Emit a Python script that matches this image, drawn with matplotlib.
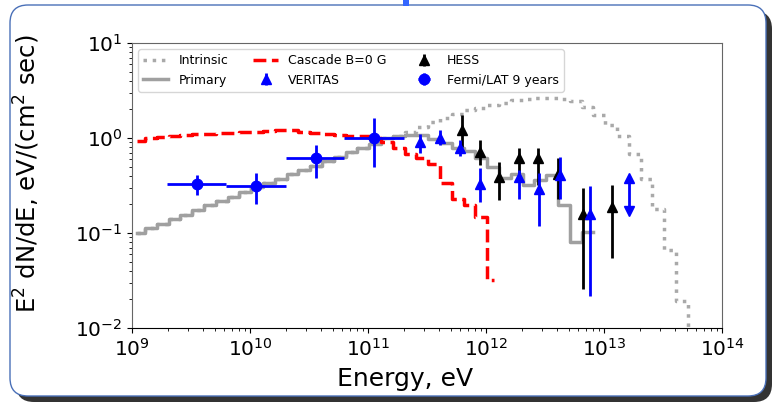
import matplotlib
matplotlib.use("Agg")
import matplotlib.pyplot as plt
import numpy as np
from matplotlib.patches import FancyBboxPatch, Rectangle
from matplotlib.transforms import IdentityTransform

# model spectra are binned in 0.1 dex of energy (log10 E/eV)
edges_log10 = [9.04] + [round(9.11 + 0.1 * k, 2) for k in range(48)]

# log10 of E^2 dN/dE, read per bin
primary_log10 = [-1.00, -0.95, -0.90, -0.855, -0.81, -0.76, -0.71, -0.665, -0.62, -0.57,
                 -0.52, -0.475, -0.43, -0.38, -0.335, -0.29, -0.24, -0.195, -0.15, -0.10,
                 -0.06, 0.0, 0.02, 0.03, 0.03, -0.01, -0.055, -0.10, -0.14, -0.21,
                 -0.30, -0.42, -0.38, -0.49, -0.44, -0.39, -0.70, -1.09, -0.99]
intrinsic_log10 = primary_log10[:20] + [-0.05, 0.0, 0.025,
                   0.06, 0.12, 0.17, 0.21, 0.25, 0.29, 0.32, 0.345, 0.37, 0.395,
                   0.415, 0.425, 0.42, 0.41, 0.39, 0.33, 0.24, 0.14, 0.02, -0.17,
                   -0.43, -0.75, -1.18, -1.72, -3.0]
cascade_log10 = [-0.03, 0.0, 0.01, 0.02, 0.03, 0.04, 0.045, 0.05, 0.055, 0.06,
                 0.065, 0.07, 0.08, 0.085, 0.06, 0.05, 0.04, 0.03, 0.025, 0.02,
                 0.0, -0.04, -0.105, -0.165, -0.21, -0.27, -0.47, -0.64, -0.71, -0.835,
                 -1.495]
cascade_edges_log10 = edges_log10[:31] + [12.07]

# Fermi/LAT 9 years
fermi_E = [3.55e9, 1.12e10, 3.6e10, 1.12e11]
fermi_E_lo = [1.97e9, 6.27e9, 2.0e10, 6.3e10]
fermi_E_hi = [6.27e9, 2.0e10, 6.3e10, 2.0e11]
fermi_F = [0.33, 0.31, 0.61, 1.0]
fermi_F_lo = [0.25, 0.20, 0.38, 0.49]
fermi_F_hi = [0.41, 0.43, 0.85, 1.61]

# VERITAS
veritas_E = [2.75e11, 4.07e11, 6.03e11, 8.9e11, 1.9e12, 2.8e12, 4.2e12, 7.6e12]
veritas_F = [0.91, 1.0, 0.79, 0.33, 0.39, 0.29, 0.41, 0.16]
veritas_F_lo = [0.69, 0.84, 0.65, 0.21, 0.23, 0.12, 0.23, 0.022]
veritas_F_hi = [1.10, 1.21, 0.95, 0.48, 0.46, 0.43, 0.63, 0.31]
veritas_lim_E = [1.62e13]
veritas_lim_top = [0.38]
veritas_lim_bottom = [0.17]

# HESS
hess_E = [6.2e11, 8.9e11, 1.29e12, 1.9e12, 2.75e12, 4.1e12, 6.6e12, 1.16e13]
hess_F = [1.21, 0.72, 0.39, 0.61, 0.61, 0.42, 0.16, 0.19]
hess_F_lo = [0.81, 0.52, 0.22, 0.35, 0.32, 0.23, 0.026, 0.054]
hess_F_hi = [1.74, 0.95, 0.56, 0.78, 0.78, 0.62, 0.30, 0.32]


def asym_err(val, lo, hi):
    val = np.array(val)
    return [val - np.array(lo), np.array(hi) - val]


fig = plt.figure(figsize=(7.73, 4.03), dpi=100)

# slide-like frame around the plot
shadow = FancyBboxPatch((16, 1), 756, 391, boxstyle="round,pad=0,rounding_size=18",
                        transform=IdentityTransform(), facecolor="#333333",
                        edgecolor="none", zorder=-20)
frame = FancyBboxPatch((10, 7), 756, 391, boxstyle="round,pad=0,rounding_size=18",
                       transform=IdentityTransform(), facecolor="white",
                       edgecolor="#4a70b8", linewidth=1.0, zorder=-10)
handle = Rectangle((403, 397), 6, 6, transform=IdentityTransform(),
                   facecolor="#3366ff", edgecolor="none", zorder=-5)
fig.add_artist(shadow)
fig.add_artist(frame)
fig.add_artist(handle)

ax = fig.add_axes([0.1708, 0.186, 0.7633, 0.7073])

edges = 10 ** np.array(edges_log10)
ax.step(edges[:49], 10 ** np.append(intrinsic_log10, intrinsic_log10[-1]), where="post",
        color="#a9a9a9", ls=":", lw=2.5, label="Intrinsic")
ax.step(edges[:40], 10 ** np.append(primary_log10, primary_log10[-1]), where="post",
        color="#a0a0a0", lw=2.5, label="Primary")
ax.step(10 ** np.array(cascade_edges_log10), 10 ** np.append(cascade_log10, cascade_log10[-1]),
        where="post", color="red", ls="--", lw=2.5, label="Cascade B=0 G")

ax.errorbar(veritas_E, veritas_F, yerr=asym_err(veritas_F, veritas_F_lo, veritas_F_hi),
            fmt="^", color="blue", ms=7, elinewidth=2, label="VERITAS", zorder=4)
ax.errorbar(veritas_lim_E, veritas_lim_top,
            yerr=asym_err(veritas_lim_top, veritas_lim_bottom, veritas_lim_top),
            fmt="none", ecolor="blue", elinewidth=2, zorder=4)
ax.plot(veritas_lim_E, veritas_lim_top, "^", color="blue", ms=7, zorder=4)
ax.plot(veritas_lim_E, veritas_lim_bottom, "v", color="blue", ms=7, zorder=4)

ax.errorbar(hess_E, hess_F, yerr=asym_err(hess_F, hess_F_lo, hess_F_hi),
            fmt="^", color="black", ms=7, elinewidth=2, label="HESS", zorder=3)

ax.errorbar(fermi_E, fermi_F, yerr=asym_err(fermi_F, fermi_F_lo, fermi_F_hi),
            xerr=asym_err(fermi_E, fermi_E_lo, fermi_E_hi),
            fmt="o", color="blue", ms=7.5, elinewidth=2, label="Fermi/LAT 9 years", zorder=5)

ax.set_xscale("log")
ax.set_yscale("log")
ax.set_xlim(1e9, 1e14)
ax.set_ylim(1e-2, 1e1)
ax.tick_params(labelsize=14.5)
for side in ["left", "top", "right"]:
    ax.spines[side].set_color("0.4")
ax.set_xlabel("Energy, eV", fontsize=18)
ax.xaxis.set_label_coords(0.463, -0.135)
ax.set_ylabel("E$^2$ dN/dE, eV/(cm$^2$ sec)", fontsize=17.5)
ax.yaxis.set_label_coords(-0.152, 0.54)
ax.legend(loc="upper left", ncol=3, fontsize=9)

fig.savefig("out.png", dpi=100)
